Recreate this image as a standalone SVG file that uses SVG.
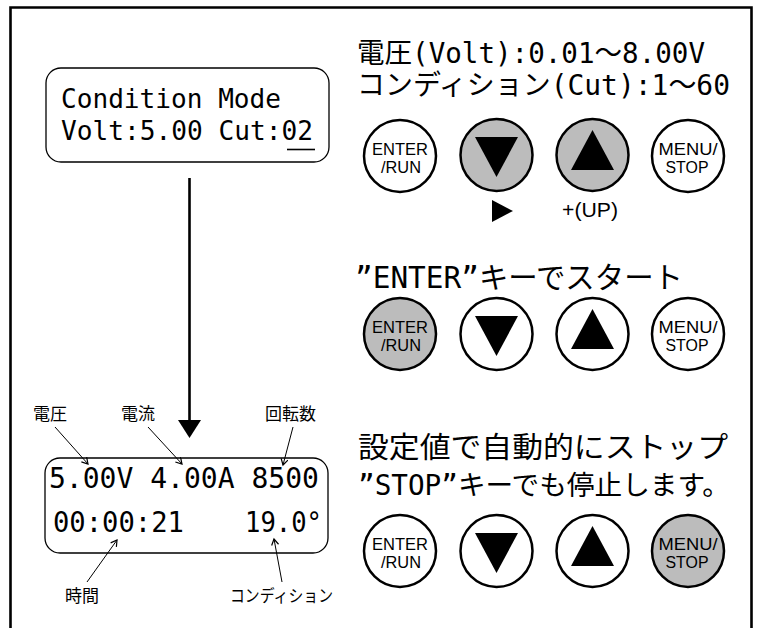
<svg xmlns="http://www.w3.org/2000/svg" xmlns:xlink="http://www.w3.org/1999/xlink" width="760" height="628" viewBox="0 0 760 628">
  <style>
    .lcd { fill: #fff; stroke: #000; stroke-width: 1.3; }
    .mono { font-family: "DejaVu Sans Mono", "Noto Sans CJK JP", monospace; fill: #000; }
    .jp { font-family: "DejaVu Sans Mono", "Noto Sans CJK JP", sans-serif; fill: #000; }
    .lbl { font-family: "Noto Sans CJK JP", sans-serif; font-size: 17px; fill: #000; }
    .btn { fill: #fff; stroke: #000; stroke-width: 2.5; }
    .btn.on { fill: #bcbcbc; }
    .btxt { font-family: "Liberation Sans", Arial, sans-serif; font-size: 16px; text-anchor: middle; fill: #000; }
    .thin { stroke: #000; stroke-width: 1; fill: none; }
  </style>
  <defs>
    <marker id="open" markerUnits="userSpaceOnUse" markerWidth="10" markerHeight="10" refX="7" refY="4" orient="auto">
      <path d="M1,0.5 L7,4 L1,7.5" fill="none" stroke="#000" stroke-width="1.2"/>
    </marker>
    <path id="tdown" d="M-21.5,-18 H21.5 L0,22 Z" fill="#000"/>
    <path id="tup" d="M0,-25 L21.5,15 H-21.5 Z" fill="#000"/>
  </defs>

  <rect width="760" height="628" fill="#fff"/>
  <path id="frame" d="M10.5,640 V7.5 H751.5 V640" fill="none" stroke="#000" stroke-width="2.6"/>

  <g id="lcd-setting">
    <rect class="lcd" x="46" y="68" width="283" height="94" rx="15"/>
    <text class="mono" x="61" y="108" font-size="27" textLength="220" lengthAdjust="spacingAndGlyphs">Condition Mode</text>
    <text class="mono" x="61" y="140" font-size="27" textLength="252" lengthAdjust="spacingAndGlyphs">Volt:5.00 Cut:02</text>
    <line x1="287" y1="149.5" x2="315" y2="149.5" stroke="#000" stroke-width="1.6"/>
  </g>

  <g id="lcd-run">
    <rect class="lcd" x="45" y="458" width="283" height="95" rx="15"/>
    <text class="mono" x="49" y="488" font-size="29" textLength="270" lengthAdjust="spacingAndGlyphs">5.00V 4.00A 8500</text>
    <text class="mono" x="53" y="532" font-size="29" textLength="131" lengthAdjust="spacingAndGlyphs">00:00:21</text>
    <text class="mono" x="245" y="532" font-size="29" textLength="77" lengthAdjust="spacingAndGlyphs">19.0°</text>
  </g>

  <g id="labels">
    <text class="lbl" x="33" y="420">電圧</text>
    <text class="lbl" x="121" y="420">電流</text>
    <text class="lbl" x="265" y="420">回転数</text>
    <text class="lbl" x="65" y="602">時間</text>
    <text class="lbl" x="230" y="602" textLength="103" lengthAdjust="spacingAndGlyphs">コンディション</text>
  </g>

  <g id="connectors">
    <line x1="189.5" y1="178" x2="189.5" y2="422" stroke="#000" stroke-width="2.6"/>
    <polygon points="178,420 201,420 189.5,438" fill="#000"/>
    <line class="thin" x1="55" y1="427" x2="88" y2="464" marker-end="url(#open)"/>
    <line class="thin" x1="148" y1="427" x2="182" y2="464" marker-end="url(#open)"/>
    <line class="thin" x1="293" y1="427" x2="283" y2="465" marker-end="url(#open)"/>
    <line class="thin" x1="87" y1="582" x2="117" y2="540" marker-end="url(#open)"/>
    <line class="thin" x1="282" y1="582" x2="274" y2="539" marker-end="url(#open)"/>
  </g>

  <g id="title-range">
    <text class="jp" x="357" y="63" font-size="28" textLength="348" lengthAdjust="spacingAndGlyphs">電圧(Volt):0.01〜8.00V</text>
    <text class="jp" x="357" y="95" font-size="28" textLength="373" lengthAdjust="spacingAndGlyphs">コンディション(Cut):1〜60</text>
  </g>

  <g id="buttons-1">
    <circle class="btn" cx="400" cy="156" r="36"/>
    <text class="btxt" x="400" y="155" textLength="56" lengthAdjust="spacingAndGlyphs">ENTER</text>
    <text class="btxt" x="401" y="173" textLength="40" lengthAdjust="spacingAndGlyphs">/RUN</text>
    <circle class="btn on" cx="496.5" cy="155" r="36"/>
    <use xlink:href="#tdown" x="496.5" y="155"/>
    <circle class="btn on" cx="592.5" cy="155" r="36"/>
    <use xlink:href="#tup" x="592.5" y="155"/>
    <circle class="btn" cx="688" cy="156" r="36"/>
    <text class="btxt" x="688" y="155" textLength="59" lengthAdjust="spacingAndGlyphs">MENU/</text>
    <text class="btxt" x="687" y="173" textLength="43" lengthAdjust="spacingAndGlyphs">STOP</text>
    <polygon points="492,200 513,211 492,222" fill="#000"/>
    <text x="562" y="217" font-family="Liberation Sans, Arial, sans-serif" font-size="20" textLength="56" lengthAdjust="spacingAndGlyphs">+(UP)</text>
  </g>

  <g id="title-start">
    <text class="jp" x="355" y="288" font-size="29.5" textLength="328" lengthAdjust="spacingAndGlyphs">”ENTER”キーでスタート</text>
  </g>

  <g id="buttons-2">
    <circle class="btn on" cx="400" cy="334" r="36"/>
    <text class="btxt" x="400" y="333" textLength="56" lengthAdjust="spacingAndGlyphs">ENTER</text>
    <text class="btxt" x="401" y="351" textLength="40" lengthAdjust="spacingAndGlyphs">/RUN</text>
    <circle class="btn" cx="496.5" cy="334" r="36"/>
    <use xlink:href="#tdown" x="496.5" y="334"/>
    <circle class="btn" cx="592.5" cy="334" r="36"/>
    <use xlink:href="#tup" x="592.5" y="334"/>
    <circle class="btn" cx="688" cy="334" r="36"/>
    <text class="btxt" x="688" y="333" textLength="59" lengthAdjust="spacingAndGlyphs">MENU/</text>
    <text class="btxt" x="687" y="351" textLength="43" lengthAdjust="spacingAndGlyphs">STOP</text>
  </g>

  <g id="title-stop">
    <text class="jp" x="358" y="458" font-size="29" textLength="370" lengthAdjust="spacingAndGlyphs">設定値で自動的にストップ</text>
    <text class="jp" x="358" y="495" font-size="27.5" textLength="372" lengthAdjust="spacingAndGlyphs">”STOP”キーでも停止します。</text>
  </g>

  <g id="buttons-3">
    <circle class="btn" cx="400" cy="551" r="36"/>
    <text class="btxt" x="400" y="550" textLength="56" lengthAdjust="spacingAndGlyphs">ENTER</text>
    <text class="btxt" x="401" y="568" textLength="40" lengthAdjust="spacingAndGlyphs">/RUN</text>
    <circle class="btn" cx="496.5" cy="551" r="36"/>
    <use xlink:href="#tdown" x="496.5" y="551"/>
    <circle class="btn" cx="592.5" cy="551" r="36"/>
    <use xlink:href="#tup" x="592.5" y="551"/>
    <circle class="btn on" cx="688" cy="551" r="36"/>
    <text class="btxt" x="688" y="550" textLength="59" lengthAdjust="spacingAndGlyphs">MENU/</text>
    <text class="btxt" x="687" y="568" textLength="43" lengthAdjust="spacingAndGlyphs">STOP</text>
  </g>
</svg>
